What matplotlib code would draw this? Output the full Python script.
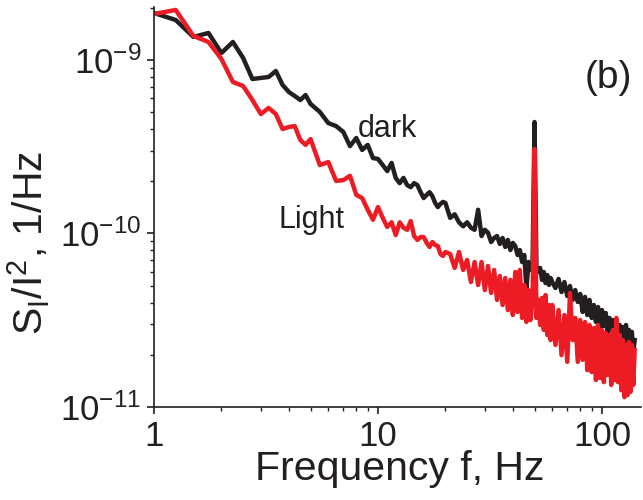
import numpy as np
import matplotlib
matplotlib.use("Agg")
import matplotlib.pyplot as plt
from matplotlib.ticker import LogLocator, NullFormatter

plt.rcParams['font.family'] = ['Liberation Sans', 'DejaVu Sans']
plt.rcParams['mathtext.fontset'] = 'custom'
plt.rcParams['mathtext.rm'] = 'Liberation Sans'
plt.rcParams['mathtext.it'] = 'Liberation Sans:italic'
plt.rcParams['mathtext.bf'] = 'Liberation Sans:bold'

# frequency grid, Hz
freq = np.concatenate([np.arange(1, 5, 0.25), np.arange(5, 20, 0.5),
                       np.arange(20, 60, 1.0), np.arange(60, 141, 2.0)])

# S_I/I^2, in units of 1e-11 1/Hz
dark = np.array([
    186.6, 170.0, 135.7, 143.1, 109.7, 127.0, 102.7, 77.7, 78.8, 79.8, 86.4, 71.8, 65.4, 62.0, 58.8, 62.8,
    55.8, 50.2, 43.3, 41.6, 38.5, 31.9, 35.5, 30.3, 32.4, 27.2, 26.9, 24.8, 22.9, 25.5, 20.9,
    19.5, 20.9, 19.0, 18.5, 19.5, 19.0, 17.3, 16.0, 16.7, 17.3, 16.4, 15.0, 14.2, 14.8, 15.2,
    15.0, 12.3, 12.9, 11.6, 11.0, 11.6, 10.8, 10.5, 13.7, 9.67, 10.5, 10.1, 8.93, 9.42, 9.67, 8.70,
    9.42, 8.36, 9.18, 8.03, 8.82, 8.47, 7.52, 8.03, 6.85, 7.52, 4.79, 6.85, 6.16, 6.67, 43.9,
    6.33, 6.00, 6.33, 5.40, 6.00, 5.18, 5.76, 5.05, 5.54,
    5.25, 4.85, 5.47, 4.60, 5.25, 4.36, 4.98, 4.14, 4.72, 4.03, 4.48, 3.53, 4.31, 3.39, 4.14,
    3.26, 3.87, 3.09, 3.77, 2.78, 3.62, 2.93, 3.48, 2.60, 3.26, 2.78, 3.17, 2.43, 3.09, 2.57,
    2.97, 2.28, 2.89, 2.19, 2.97, 2.28, 2.78, 2.13, 2.71, 2.07, 2.43,
]) * 1e-11

light = np.array([
    184.1, 194.2, 137.5, 127.0, 101.3, 74.7, 70.8, 58.8, 48.8, 52.9, 48.8, 40.0, 41.1, 41.6, 34.6, 32.4,
    35.0, 24.8, 25.8, 20.1, 20.3, 21.5, 16.7, 16.0, 13.7, 12.0, 14.2, 12.3, 10.9, 11.6, 9.80,
    11.6, 10.8, 10.5, 11.8, 9.67, 9.18, 9.54, 9.54, 8.82, 8.36, 8.93, 8.58, 8.47, 7.62, 7.42,
    7.82, 7.62, 6.33, 7.82, 6.16, 7.04, 5.25, 6.85, 5.05, 6.85, 4.72, 6.50, 4.54, 6.16, 4.14,
    5.69, 3.87, 5.54, 3.62, 5.40, 3.39, 6.00, 3.53, 6.16, 3.26, 5.05, 3.09, 4.72, 3.17, 4.14,
    30.7, 3.26, 4.14, 2.97, 4.25, 2.78, 4.42, 2.60, 3.87, 2.43,
    3.87, 2.28, 3.62, 1.99, 3.39, 1.82, 4.54, 2.43, 3.26, 1.82, 3.17, 1.87, 3.09, 1.63, 2.97,
    1.59, 2.85, 1.43, 2.97, 1.47, 2.78, 1.39, 2.67, 1.53, 2.60, 1.34, 2.78, 1.43, 3.26, 1.39,
    2.60, 1.25, 2.43, 1.14, 2.28, 1.17, 2.37, 1.22, 2.28, 1.34, 2.13,
]) * 1e-11

ink = '#231f20'
red = '#ed1c24'

fig = plt.figure(figsize=(6.43, 5.0), dpi=100)
ax = fig.add_axes([0.2395, 0.186, 0.758, 0.80])

ax.plot(freq, dark, color=ink, lw=3.2)
ax.plot(freq, light, color=red, lw=3.2)

ax.set_xscale('log')
ax.set_yscale('log')
ax.set_xlim(1, 150)
ax.set_ylim(1e-11, 2.02e-9)

for s in ['top', 'right']:
    ax.spines[s].set_visible(False)
for s in ['left', 'bottom']:
    ax.spines[s].set_linewidth(1.2)
    ax.spines[s].set_color(ink)

ax.xaxis.set_major_locator(LogLocator(base=10, numticks=10))
ax.xaxis.set_major_formatter(plt.FuncFormatter(lambda v, p: '%g' % v))
ax.xaxis.set_minor_formatter(NullFormatter())
ax.tick_params(which='major', direction='out', length=5, width=1.2, colors=ink,
               labelsize=25, pad=4)
ax.tick_params(which='minor', direction='out', length=3, width=1.0, colors=ink)

ax.set_xlabel('Frequency f, Hz', fontsize=29.5, color=ink)
ax.set_ylabel(r'S$_\mathregular{I}$/I$^\mathregular{2}$, 1/Hz', fontsize=29.5, color=ink)
ax.xaxis.set_label_coords(0.505, -0.108)
ax.yaxis.set_label_coords(-0.21, 0.41)

ax.text(8.14, 3.6e-10, 'dark', fontsize=22, color=ink, ha='left', va='baseline')
ax.text(3.58, 1.076e-10, 'Light', fontsize=22, color=ink, ha='left', va='baseline')
ax.text(0.884, 0.797, '(b)', transform=ax.transAxes, fontsize=28, color=ink,
        ha='left', va='baseline')

fig.savefig('out.png', dpi=100)
